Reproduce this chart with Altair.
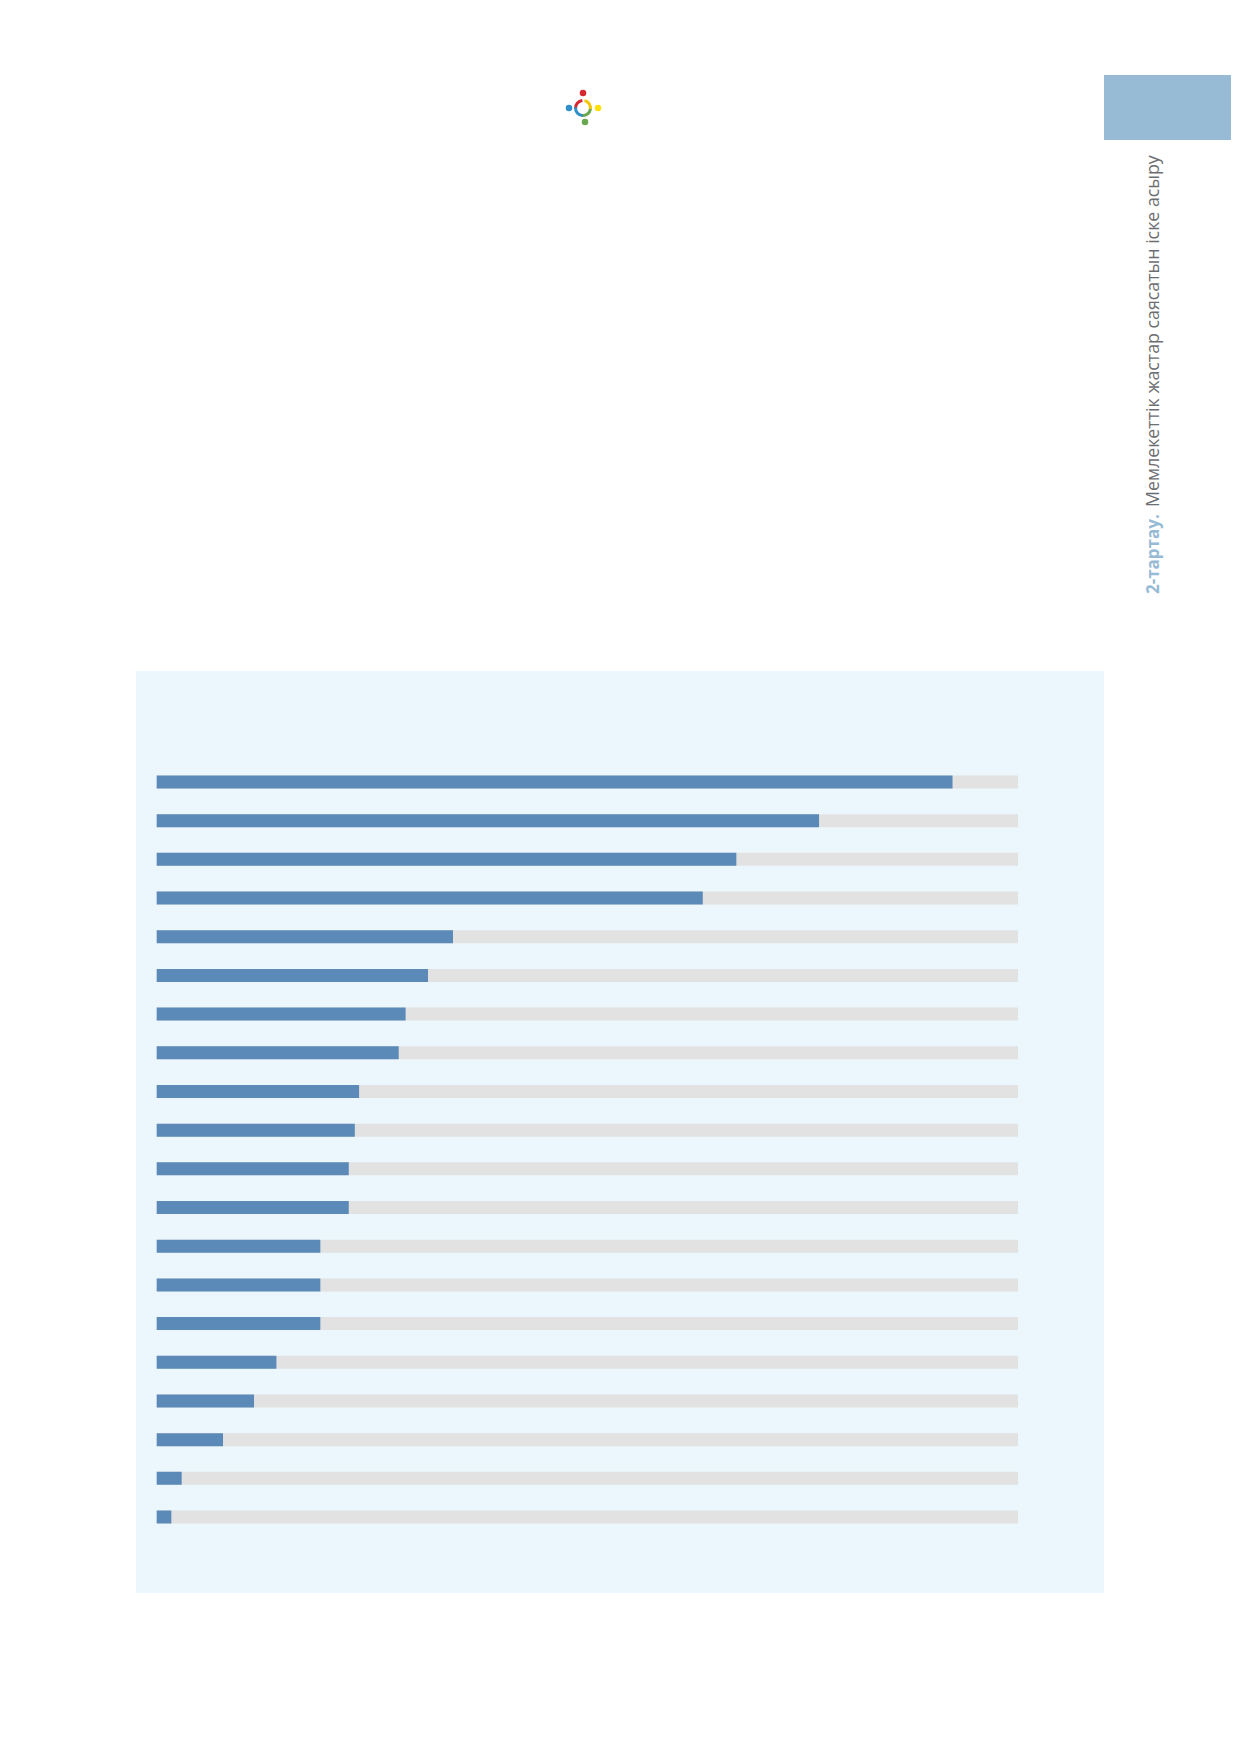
import altair as alt
import pandas as pd

# ---- data ----
rows = [str(i) for i in range(1, 21)]
values = [92.4, 76.9, 67.3, 63.4, 34.4, 31.5, 28.9, 28.1, 23.5, 23.0,
          22.3, 22.3, 19.0, 19.0, 19.0, 13.9, 11.3, 7.7, 2.9, 1.7]
track_max = [100] * 20

sidebar_bold = "2-тартау."
sidebar_text = "Мемлекеттік жастар саясатын іске асыру"

df = pd.DataFrame({"row": rows, "value": values, "full": track_max})
one = pd.DataFrame({"k": [0]})

W, H = 1223, 1736
BLUE = "#5B8AB8"
GREY = "#E2E2E2"
PANEL = "#ECF7FD"
SIDE = "#97BBD5"

xs = alt.Scale(domain=[0, 100], range=[148.7, 1010])
ys = alt.Scale(type="point", domain=rows, range=[774, 1509], padding=0)

panel = alt.Chart(one).mark_rect(color=PANEL).encode(
    x=alt.value(128), x2=alt.value(1096), y=alt.value(663), y2=alt.value(1585)
)

track = alt.Chart(df).mark_bar(color=GREY, size=13).encode(
    x=alt.X("full:Q", scale=xs, axis=None),
    x2=alt.datum(0),
    y=alt.Y("row:N", scale=ys, axis=None),
)
bars = alt.Chart(df).mark_bar(color=BLUE, size=13).encode(
    x=alt.X("value:Q", scale=xs, axis=None),
    x2=alt.datum(0),
    y=alt.Y("row:N", scale=ys, axis=None),
)

side_rect = alt.Chart(one).mark_rect(color=SIDE).encode(
    x=alt.value(1096), x2=alt.value(1223), y=alt.value(67), y2=alt.value(132)
)
side_bold = alt.Chart(one).mark_text(
    text=sidebar_bold, angle=270, align="left", baseline="middle",
    font="Open Sans", fontSize=17, fontWeight="bold", color=SIDE
).encode(x=alt.value(1146), y=alt.value(586))
side_reg = alt.Chart(one).mark_text(
    text=sidebar_text, angle=270, align="left", baseline="middle",
    font="Open Sans", fontSize=17.8, color="#6D6E71"
).encode(x=alt.value(1146), y=alt.value(499))

# ---- small logo ----
cx, cy = 575, 100
def dot(x, y, c):
    return alt.Chart(one).mark_circle(color=c, size=42, opacity=1).encode(
        x=alt.value(x), y=alt.value(y))
def arc(t1, t2, c):
    return alt.Chart(one).mark_arc(color=c, theta=t1, theta2=t2,
                                   radius=6, radius2=9).encode(
        x=alt.value(cx), y=alt.value(cy))

logo = [
    arc(4.6, 6.2, "#D7282F"), arc(0.2, 1.8, "#F5C400"),
    arc(1.7, 3.3, "#6AA84F"), arc(3.2, 4.8, "#2F8FCB"),
    dot(575, 85, "#D7282F"), dot(590, 100, "#FFE000"),
    dot(577, 114, "#6AA84F"), dot(561, 100, "#2F8FCB"),
]

chart = alt.layer(panel, track, bars, side_rect, side_bold, side_reg, *logo).properties(
    width=W, height=H, autosize="none", padding=0, background="white"
).configure_view(strokeWidth=0)

chart.save("out.html", embed_options={"renderer": "svg", "actions": False})
